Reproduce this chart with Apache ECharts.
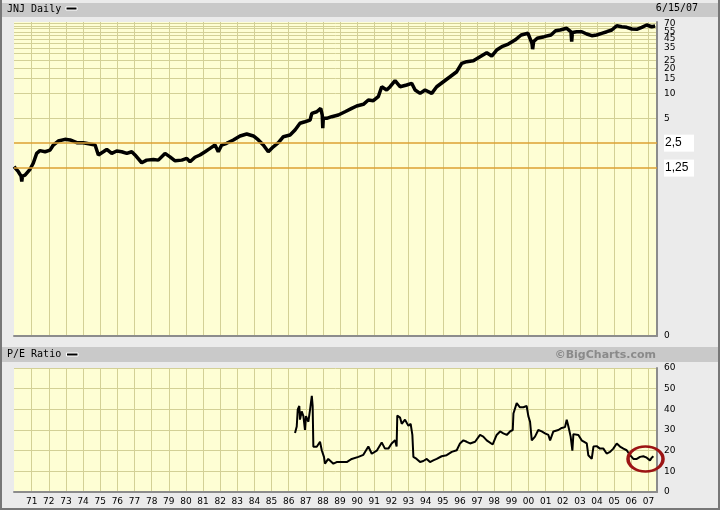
<!DOCTYPE html>
<html>
<head>
<meta charset="utf-8">
<script src="https://cdn.jsdelivr.net/npm/echarts@6/dist/echarts.min.js"></script>
<style>
  html, body { margin: 0; padding: 0; background: #ebebeb; }
  #chart { width: 720px; height: 510px; }
</style>
</head>
<body>
<div id="chart"></div>
<script>
// price (split adjusted), decimal years
const priceYears = [
  1969.97, 1970.22, 1970.38, 1970.42, 1970.46, 1970.61, 1970.90, 1971.09, 1971.29, 1971.48,
  1971.78, 1972.07, 1972.26, 1972.55, 1972.94, 1973.24, 1973.63, 1974.01, 1974.40, 1974.70,
  1974.89, 1975.18, 1975.38, 1975.67, 1975.96, 1976.25, 1976.55, 1976.84, 1977.03, 1977.42,
  1977.71, 1978.10, 1978.39, 1978.78, 1979.07, 1979.37, 1979.76, 1980.05, 1980.24, 1980.53,
  1980.82, 1981.12, 1981.41, 1981.70, 1981.89, 1982.09, 1982.38, 1982.77, 1983.16, 1983.55,
  1983.94, 1984.23, 1984.52, 1984.81, 1985.10, 1985.40, 1985.69, 1986.08, 1986.37, 1986.66,
  1986.95, 1987.25, 1987.35, 1987.64, 1987.87, 1987.96, 1987.99, 1988.02, 1988.22, 1988.51,
  1988.90, 1989.29, 1989.68, 1989.97, 1990.36, 1990.65, 1990.94, 1991.23, 1991.43, 1991.72,
  1991.92, 1992.21, 1992.50, 1992.89, 1993.18, 1993.38, 1993.67, 1993.96, 1994.35, 1994.64,
  1995.03, 1995.42, 1995.81, 1996.10, 1996.39, 1996.78, 1997.17, 1997.56, 1997.85, 1998.14,
  1998.44, 1998.82, 1999.21, 1999.57, 1999.97, 2000.20, 2000.24, 2000.30, 2000.51, 2000.91,
  2001.31, 2001.58, 2001.84, 2002.23, 2002.48, 2002.52, 2002.56, 2002.81, 2003.11, 2003.40,
  2003.69, 2003.98, 2004.27, 2004.57, 2004.86, 2005.15, 2005.44, 2005.73, 2006.03, 2006.32,
  2006.61, 2006.90, 2007.19, 2007.39
];
const priceValues = [
  1.30, 1.13, 1.00, 0.86, 1.00, 1.03, 1.21, 1.43, 1.88, 2.03,
  1.97, 2.06, 2.37, 2.65, 2.78, 2.73, 2.53, 2.53, 2.44, 2.37,
  1.80, 1.97, 2.10, 1.88, 2.01, 1.97, 1.88, 1.97, 1.80, 1.45,
  1.56, 1.59, 1.56, 1.88, 1.71, 1.53, 1.56, 1.64, 1.49, 1.69,
  1.80, 1.97, 2.16, 2.37, 1.97, 2.37, 2.49, 2.73, 3.05, 3.22,
  3.05, 2.73, 2.37, 1.97, 2.26, 2.53, 2.99, 3.13, 3.60, 4.34,
  4.53, 4.75, 5.72, 5.98, 6.57, 5.46, 3.80, 5.00, 4.98, 5.21,
  5.46, 5.98, 6.57, 7.01, 7.35, 8.28, 8.12, 9.08, 11.98, 10.93,
  11.98, 14.15, 11.98, 12.56, 13.17, 10.93, 9.97, 10.93, 9.97, 11.98,
  13.76, 15.8, 18.17, 22.9, 24.0, 24.7, 27.6, 30.8, 28.1, 33.2,
  36.4, 39.2, 43.8, 50.4, 52.8, 40.0, 34.0, 42.0, 46.0, 48.1,
  50.4, 56.8, 57.9, 60.7, 55.0, 41.8, 54.0, 55.2, 55.2, 51.8,
  49.4, 50.4, 52.8, 55.2, 57.9, 65.2, 63.4, 62.4, 59.5, 59.0,
  62.4, 66.5, 63.4, 64.7
];

// P/E ratio
const peYears = [
  1986.37, 1986.47, 1986.53, 1986.62, 1986.66, 1986.76, 1986.86, 1986.95, 1987.01, 1987.15,
  1987.25, 1987.35, 1987.40, 1987.44, 1987.64, 1987.73, 1987.83, 1987.93, 1988.06, 1988.12,
  1988.31, 1988.61, 1988.80, 1989.10, 1989.39, 1989.68, 1990.07, 1990.16, 1990.36, 1990.65,
  1990.85, 1991.14, 1991.43, 1991.62, 1991.82, 1992.01, 1992.21, 1992.30, 1992.34, 1992.50,
  1992.60, 1992.79, 1992.99, 1993.12, 1993.22, 1993.28, 1993.47, 1993.67, 1993.86, 1994.06,
  1994.25, 1994.44, 1994.64, 1994.93, 1995.22, 1995.52, 1995.81, 1996.00, 1996.20, 1996.39,
  1996.59, 1996.88, 1997.17, 1997.36, 1997.56, 1997.91, 1998.14, 1998.34, 1998.53, 1998.73,
  1998.92, 1999.08, 1999.12, 1999.31, 1999.50, 1999.70, 1999.89, 1999.99, 2000.09, 2000.19,
  2000.38, 2000.57, 2000.77, 2000.96, 2001.16, 2001.26, 2001.45, 2001.74, 2001.94, 2002.13,
  2002.23, 2002.33, 2002.46, 2002.56, 2002.62, 2002.71, 2002.91, 2003.10, 2003.40, 2003.49,
  2003.69, 2003.79, 2003.98, 2004.17, 2004.37, 2004.56, 2004.76, 2004.95, 2005.15, 2005.34,
  2005.54, 2005.73, 2005.93, 2006.12, 2006.32, 2006.51, 2006.70, 2006.90, 2007.09, 2007.19,
  2007.29
];
const peValues = [
  28.5, 31.7, 40, 41.6, 35, 39, 36.7, 30, 36.7, 34,
  40, 46.5, 41.6, 21.9, 21.9, 21, 24.3, 20.2, 17, 13.7,
  16, 13.7, 14.5, 14.5, 14.5, 16, 17, 17, 18, 22,
  18.5, 20, 24, 21, 21, 23.5, 25, 22, 37, 36,
  33, 35, 32, 33, 27.6, 17, 16, 14.5, 15, 16,
  14.5, 15.3, 16, 17.3, 17.8, 19.4, 20.2, 23.5, 25, 24.3,
  23.5, 24.3, 27.6, 26.8, 25, 23, 27.6, 29.3, 28.4, 27.6,
  29.3, 30, 38, 43, 41, 41, 41.6, 36.7, 34, 25,
  26.8, 30, 29.3, 28.4, 27.6, 25, 29.3, 30, 31, 31.4,
  35, 31.7, 26.8, 20, 28, 28.4, 27.6, 25, 23.5, 17.8,
  16, 22, 22.2, 21, 21, 18.6, 19.4, 21, 23.5, 22,
  21, 20.2, 17.8, 16, 16, 17, 17.3, 16.6, 15.3, 16.6,
  17.3
];

const yearTicks = [];
for (let y = 1971; y <= 2007; y++) yearTicks.push(y);
const priceLabels = [70, 55, 45, 35, 25, 20, 15, 10, 5, 2.5, 1.25];
const priceGridLines = [5, 10, 15, 20, 25, 30, 35, 40, 45, 50, 55, 60, 65, 70];
const refLevels = [2.5, 1.25];
const circleAt = [2006.83, 16];

const xMin = 1969.966;
const xMax = 2007.50;
const priceLow = Math.log(0.0118);  // shown as "0"
const priceHigh = Math.log(72.3);

const gridColor = '#d3d096';
const axisGray = '#8c8c8c';
const plotBg = '#fefed4';
const barGray = '#c9c9c9';
const mono = '10px "DejaVu Sans Mono"';

const chart = echarts.init(document.getElementById('chart'));

function xAxisFor(gridIndex, showLabels) {
  return {
    type: 'value',
    gridIndex: gridIndex,
    min: xMin,
    max: xMax,
    axisLine: { show: true, onZero: false, lineStyle: { color: axisGray, width: 2 } },
    axisTick: { show: false, customValues: yearTicks },
    axisLabel: {
      show: showLabels,
      customValues: yearTicks,
      formatter: (v) => String(Math.round(v) % 100).padStart(2, '0'),
      color: '#000',
      fontFamily: 'DejaVu Sans',
      fontSize: 9,
      margin: 5,
    },
    splitLine: { show: true, lineStyle: { color: gridColor, width: 1 } },
  };
}

const option = {
  animation: false,
  backgroundColor: '#ebebeb',
  grid: [
    { left: 14, right: 63, top: 22, height: 314, show: true, backgroundColor: plotBg, borderWidth: 0, outerBoundsMode: 'none' },
    { left: 14, right: 63, top: 368, height: 124, show: true, backgroundColor: plotBg, borderWidth: 0, outerBoundsMode: 'none' },
  ],
  xAxis: [xAxisFor(0, false), xAxisFor(1, true)],
  yAxis: [
    {
      type: 'value',
      gridIndex: 0,
      position: 'right',
      min: priceLow,
      max: priceHigh,
      axisLine: { show: true, onZero: false, lineStyle: { color: axisGray, width: 2 } },
      axisTick: { show: false, customValues: priceGridLines.map(Math.log) },
      axisLabel: {
        customValues: [priceLow].concat(priceLabels.map(Math.log)),
        formatter: (v) => {
          if (v <= priceLow + 1e-9) return '0';
          const p = Math.exp(v);
          if (p < 3) return '{box|' + String(Math.round(p * 100) / 100).replace('.', ',') + '}';
          return String(Math.round(p));
        },
        color: '#000',
        fontFamily: 'DejaVu Sans',
        fontSize: 9,
        margin: 7,
        rich: {
          box: {
            backgroundColor: '#fff',
            fontFamily: 'Liberation Sans',
            fontSize: 12,
            width: 29,
            height: 17,
            lineHeight: 17,
            padding: [0, 0, 0, 1],
            color: '#000',
          },
        },
      },
      splitLine: { show: true, lineStyle: { color: gridColor, width: 1 } },
    },
    {
      type: 'value',
      gridIndex: 1,
      position: 'right',
      min: 0,
      max: 60,
      interval: 10,
      axisLine: { show: true, onZero: false, lineStyle: { color: axisGray, width: 2 } },
      axisTick: { show: false },
      axisLabel: { color: '#000', fontFamily: 'DejaVu Sans', fontSize: 9, margin: 7 },
      splitLine: { show: true, lineStyle: { color: gridColor, width: 1 } },
    },
  ],
  series: [
    {
      name: 'JNJ Daily',
      type: 'line',
      xAxisIndex: 0,
      yAxisIndex: 0,
      showSymbol: false,
      data: priceYears.map((t, i) => [t, Math.log(priceValues[i])]),
      lineStyle: { color: '#000', width: 3.5 },
      itemStyle: { color: '#000' },
      markLine: {
        silent: true,
        symbol: 'none',
        label: { show: false },
        lineStyle: { color: '#dca033', width: 1.5, type: 'solid' },
        data: refLevels.map((v) => ({ yAxis: Math.log(v) })),
      },
    },
    {
      name: 'P/E Ratio',
      type: 'line',
      xAxisIndex: 1,
      yAxisIndex: 1,
      showSymbol: false,
      data: peYears.map((t, i) => [t, peValues[i]]),
      lineStyle: { color: '#000', width: 2 },
      itemStyle: { color: '#000' },
      markPoint: {
        symbol: 'circle',
        symbolSize: [35, 25],
        silent: true,
        label: { show: false },
        itemStyle: { color: 'rgba(0,0,0,0)', borderColor: '#9c1414', borderWidth: 3 },
        data: [{ coord: circleAt }],
      },
    },
  ],
  graphic: [
    { type: 'rect', shape: { x: 2, y: 3, width: 716, height: 14 }, style: { fill: barGray } },
    { type: 'text', style: { x: 7, y: 9, text: 'JNJ Daily', font: mono, fill: '#000', textVerticalAlign: 'middle' } },
    { type: 'rect', shape: { x: 66, y: 7, width: 11, height: 3 }, style: { fill: '#000', stroke: '#fff', lineWidth: 1 } },
    { type: 'text', style: { x: 698, y: 8, text: '6/15/07', font: mono, fill: '#000', textAlign: 'right', textVerticalAlign: 'middle' } },
    { type: 'rect', shape: { x: 2, y: 347, width: 716, height: 15 }, style: { fill: barGray } },
    { type: 'text', style: { x: 7, y: 354, text: 'P/E Ratio', font: mono, fill: '#000', textVerticalAlign: 'middle' } },
    { type: 'rect', shape: { x: 66.5, y: 353, width: 11.5, height: 3 }, style: { fill: '#000', stroke: '#fff', lineWidth: 1 } },
    { type: 'text', style: { x: 656, y: 355, text: '©BigCharts.com', font: 'bold 11px "DejaVu Sans"', fill: '#8a8a8a', textAlign: 'right', textVerticalAlign: 'middle' } },
    { type: 'polyline', shape: { points: [[1, 0], [1, 509], [719, 509], [719, 0]] }, style: { stroke: '#777', lineWidth: 2, fill: null } },
  ],
};

chart.setOption(option);

window.addEventListener('resize', () => {
  chart.resize();
});
</script>
</body>
</html>
